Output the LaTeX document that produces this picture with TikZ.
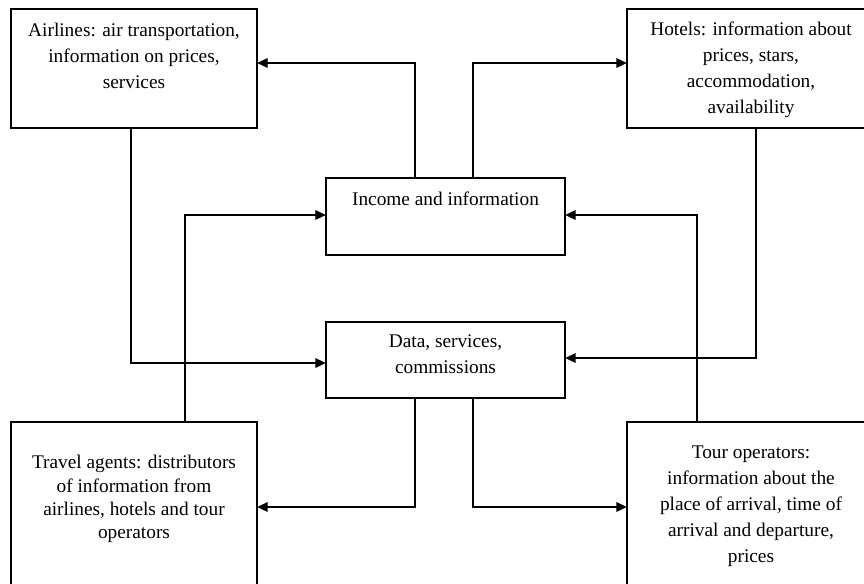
\documentclass[tikz,border=0pt]{standalone}
\usepackage{fontspec}
\setmainfont{Liberation Serif}
\usetikzlibrary{arrows.meta}
\newcommand{\bxt}[4]{\parbox[c][#2][t]{#1}{\centering\vspace*{#3}#4\par}}
\begin{document}
\begin{tikzpicture}[x=0.75pt,y=-0.75pt,
  box/.style={draw, line width=1.6pt, inner sep=0pt, outer sep=0pt, font=\fontsize{14.5}{19.5}\selectfont},
  arr/.style={line width=1.6pt, -{Triangle[length=8pt,width=7pt]}}]
\path[use as bounding box, clip] (0,0) rectangle (864,583);
% boxes
\node[box] (airlines) at (134,68.5) {\bxt{184.5pt}{89.25pt}{10.5pt}{Airlines: air transportation,\\ information on prices,\\ services}};
\node[box] (hotels) at (751,68.5) {\bxt{186pt}{89.25pt}{9.5pt}{Hotels: information about\\ prices, stars,\\ accommodation,\\ availability}};
\node[box] (income) at (445.5,216.5) {\bxt{179.25pt}{57.75pt}{10.5pt}{Income and information}};
\node[box] (data) at (445.5,360) {\bxt{179.25pt}{57pt}{9.5pt}{Data, services,\\ commissions}};
\node[box] (travel) at (134,511) {\bxt{184.5pt}{133.5pt}{25pt}{\fontsize{14.5}{17.5}\selectfont Travel agents: distributors\\ of information from\\ airlines, hotels and tour\\ operators}};
\node[box] (tour) at (751,511) {\bxt{186pt}{133.5pt}{17.5pt}{Tour operators:\\ information about the\\ place of arrival, time of\\ arrival and departure,\\ prices}};
% bend points
\coordinate (c1) at (415,63);
\coordinate (c2) at (473,63);
\coordinate (c3) at (131,363);
\coordinate (c4) at (185,215);
\coordinate (c5) at (756,358);
\coordinate (c6) at (697,215);
\coordinate (c7) at (415,507);
\coordinate (c8) at (473,507);
% connectors
\draw[arr] (income.north -| c1) |- (airlines.east |- c1);
\draw[arr] (income.north -| c2) |- (hotels.west |- c2);
\draw[arr] (airlines.south -| c3) |- (data.west |- c3);
\draw[arr] (travel.north -| c4) |- (income.west |- c4);
\draw[arr] (hotels.south -| c5) |- (data.east |- c5);
\draw[arr] (tour.north -| c6) |- (income.east |- c6);
\draw[arr] (data.south -| c7) |- (travel.east |- c7);
\draw[arr] (data.south -| c8) |- (tour.west |- c8);
\end{tikzpicture}
\end{document}
